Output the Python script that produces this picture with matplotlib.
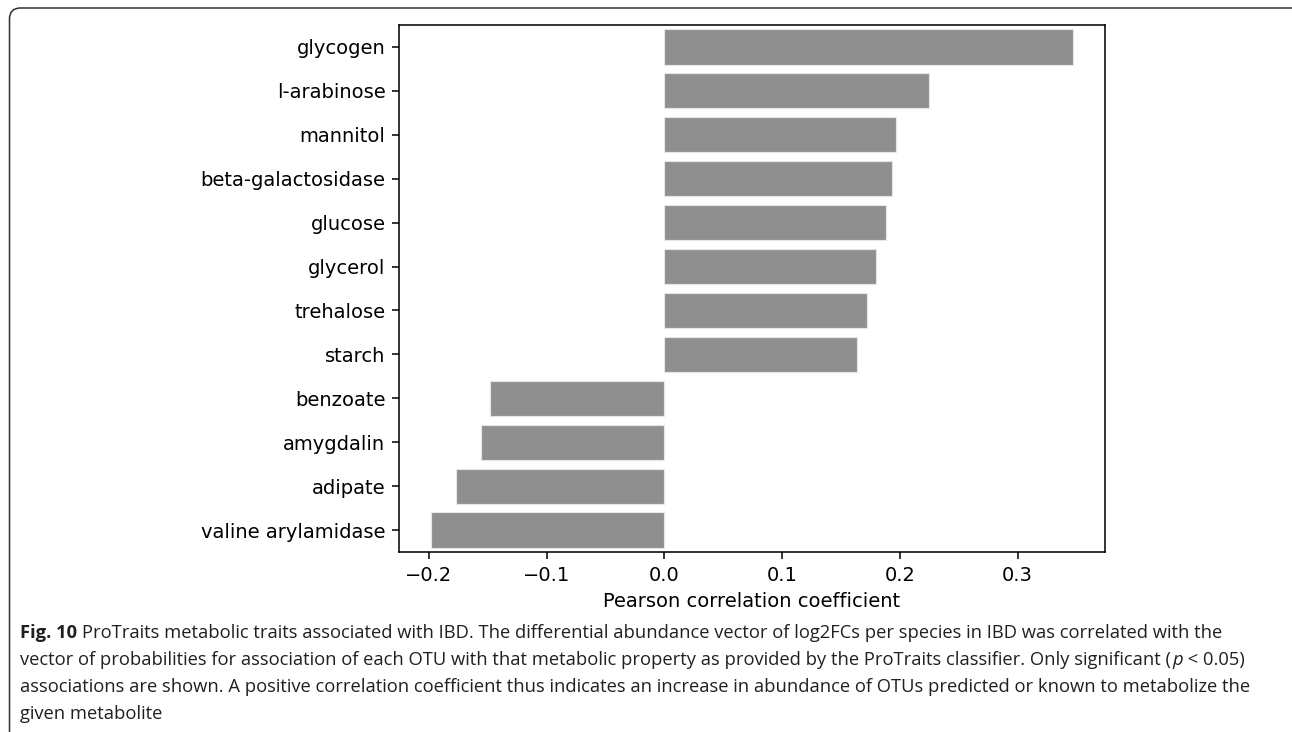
import matplotlib
matplotlib.use("Agg")
import matplotlib.pyplot as plt
from matplotlib.patches import FancyBboxPatch

# ---- data ----
categories = ["glycogen", "l-arabinose", "mannitol", "beta-galactosidase", "glucose",
              "glycerol", "trehalose", "starch", "benzoate", "amygdalin", "adipate",
              "valine arylamidase"]
values = [0.347, 0.225, 0.197, 0.193, 0.188, 0.180, 0.172, 0.164,
          -0.148, -0.156, -0.177, -0.198]
xlabel = "Pearson correlation coefficient"
caption_bold = "Fig. 10"
caption_lines = [
    "ProTraits metabolic traits associated with IBD. The differential abundance vector of log2FCs per species in IBD was correlated with the",
    "vector of probabilities for association of each OTU with that metabolic property as provided by the ProTraits classifier. Only significant (",
    "associations are shown. A positive correlation coefficient thus indicates an increase in abundance of OTUs predicted or known to metabolize the",
    "given metabolite",
]
caption_italic = "p"
caption_tail = " < 0.05)"

W, H, DPI = 1292, 732, 140
fig = plt.figure(figsize=(W / DPI, H / DPI), dpi=DPI)

# overlay axes in pixel coordinates for frame and caption
ov = fig.add_axes([0, 0, 1, 1], zorder=-1)
ov.set_xlim(0, W)
ov.set_ylim(H, 0)
ov.axis("off")
frame = FancyBboxPatch((9.5, 8), W + 20, H + 20,
                       boxstyle="round,pad=0,rounding_size=11",
                       fill=False, edgecolor="#333333", linewidth=0.8)
ov.add_patch(frame)

# main axes
left, right, top, bottom = 399, 1105, 25, 552
ax = fig.add_axes([left / W, 1 - bottom / H, (right - left) / W, (bottom - top) / H])
pos = list(range(len(categories)))
ax.barh(pos, values, height=0.8, color="#8f8f8f", edgecolor="#e6e6e6", linewidth=0.6)
ax.set_yticks(pos)
ax.set_yticklabels(categories)
ax.set_ylim(len(categories) - 0.5, -0.5)
ax.set_xticks([-0.2, -0.1, 0.0, 0.1, 0.2, 0.3])
ax.set_xlabel(xlabel)

# caption
cap_color = "#231f20"
cap_font = "Open Sans"
renderer = fig.canvas.get_renderer()

# fit font size so that line 3 spans target width
x0 = 20
target_end = 1258
probe = ov.text(0, 0, caption_lines[2], fontsize=10, family=cap_font)
wprobe = probe.get_window_extent(renderer).width
probe.remove()
fs = 10 * (target_end - x0) / wprobe
space = fs * 0.26 * DPI / 72

line_y = [633, 660, 687, 714]

t = ov.text(x0, line_y[0], caption_bold, fontsize=fs, family=cap_font, weight="bold",
            color=cap_color, va="center", ha="left")
xb = t.get_window_extent(renderer).x1
ov.text(xb + space, line_y[0], caption_lines[0], fontsize=fs, family=cap_font,
        color=cap_color, va="center", ha="left")

t2 = ov.text(x0, line_y[1], caption_lines[1], fontsize=fs, family=cap_font,
             color=cap_color, va="center", ha="left")
x2 = t2.get_window_extent(renderer).x1
t3 = ov.text(x2 + 1, line_y[1], caption_italic, fontsize=fs, family=cap_font, style="italic",
             color=cap_color, va="center", ha="left")
x3 = t3.get_window_extent(renderer).x1
ov.text(x3, line_y[1], caption_tail, fontsize=fs, family=cap_font,
        color=cap_color, va="center", ha="left")

for i in (2, 3):
    ov.text(x0, line_y[i], caption_lines[i], fontsize=fs, family=cap_font,
            color=cap_color, va="center", ha="left")

fig.savefig("out.png", dpi=DPI)
